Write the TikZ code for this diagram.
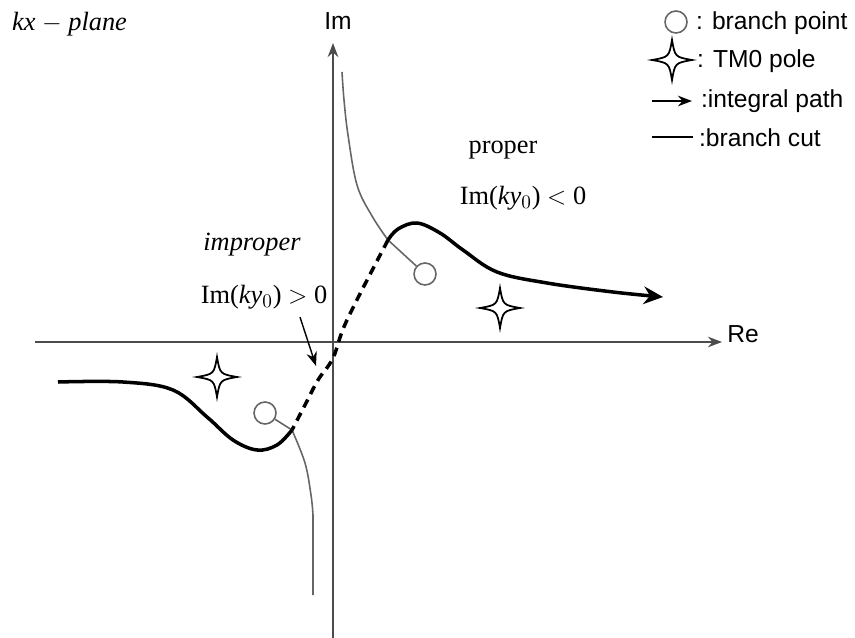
\documentclass[tikz,border=0pt]{standalone}
\usepackage{fontspec}
\setmainfont{Liberation Serif}
\setsansfont{Liberation Sans}
\usetikzlibrary{arrows.meta}

\begin{document}
\begin{tikzpicture}[x=0.02cm,y=-0.02cm,>={Stealth[length=8pt,width=6pt]},
  axis/.style={draw=black!70,line width=1.2pt},
  cut/.style={draw=black!60,line width=0.9pt},
  intpath/.style={draw=black,line width=2pt},
  bpoint/.style={circle,draw=black!60,line width=0.9pt,minimum size=0.44cm,inner sep=0pt},
  lbl/.style={font=\fontsize{14}{16}\selectfont\sffamily,inner sep=1pt},
  eq/.style={font=\fontsize{15}{18}\selectfont,inner sep=1pt},
  tmstar/.pic={\draw[line width=1pt] (0,-20) .. controls (3,-3) .. (20,0)
    .. controls (3,3) .. (0,20) .. controls (-3,3) .. (-20,0)
    .. controls (-3,-3) .. cycle;}]
\useasboundingbox (0,0) rectangle (855,638);

% axes
\coordinate (xl) at (35,342);
\coordinate (xr) at (722,342);
\coordinate (yb) at (333,638);
\coordinate (yt) at (333,43);
\draw[axis,->] (xl) -- (xr);
\draw[axis,->] (yb) -- (yt);
\node[lbl] (re) at (743,334) {Re};
\node[lbl] (im) at (338,21) {Im};
\node[eq,anchor=west] (plane) at (10,24) {\textit{kx} $-$ \textit{plane}};

% branch points and poles
\node[bpoint] (bpup) at (425,274) {};
\node[bpoint] (bplow) at (265,413) {};
\pic at (500,308) {tmstar};
\pic at (217,377) {tmstar};

% crossings of path and cut
\coordinate (crup) at (388,240);
\coordinate (crlow) at (292,430);

% branch cuts
\draw[cut] plot[smooth,tension=0.6] coordinates {(342,72) (344,100) (348,135) (357,185) (372,216) (crup)} -- (bpup);
\draw[cut] (bplow) -- (crlow) plot[smooth,tension=0.6] coordinates {(crlow) (305,463) (311,495) (313,515)} -- (313,595);

% integral path
\draw[intpath,-{Stealth[length=11pt,width=10pt]}] plot[smooth,tension=0.6] coordinates {(crup) (398,229) (417,223) (440,233) (463,250) (497,272) (547,283) (613,292) (663,297)};
\draw[intpath,dash pattern=on 5pt off 3.5pt] plot[smooth,tension=0.6] coordinates {(crup) (347,320) (333,358) (318,380) (305,405) (crlow)};
\draw[intpath] plot[smooth,tension=0.6] coordinates {(58,382) (123,382) (173,390) (207,417) (233,440) (257,450) (277,445) (crlow)};

% labels
\node[eq] (prop) at (503,150) {proper};
\node[eq] (propc) at (523,198) {Im(\textit{ky}$_0$) $<$ 0};
\node[eq] (improp) at (252,245) {\textit{improper}};
\node[eq] (impropc) at (264,297) {Im(\textit{ky}$_0$) $>$ 0};
\coordinate (arrtip) at (316,366);
\draw[->,line width=0.8pt] (impropc.south) ++(36,6) -- (arrtip);

% legend
\node[bpoint,minimum size=0.44cm] (legbp) at (676,22) {};
\node[lbl,anchor=west] (legbptxt) at (694,23) {: branch point};
\pic at (672,60) {tmstar};
\node[lbl,anchor=west] (legpoletxt) at (695,61) {: TM0 pole};
\coordinate (legarra) at (652,101);
\coordinate (legarrb) at (692,101);
\node[lbl,anchor=west] (legarrtxt) at (699,101) {:integral path};
\draw[->,line width=1pt] (legarra) -- (legarrb);
\coordinate (legcuta) at (652,137);
\coordinate (legcutb) at (693,137);
\node[lbl,anchor=west] (legcuttxt) at (697,138) {:branch cut};
\draw[line width=1pt] (legcuta) -- (legcutb);
\end{tikzpicture}
\end{document}
